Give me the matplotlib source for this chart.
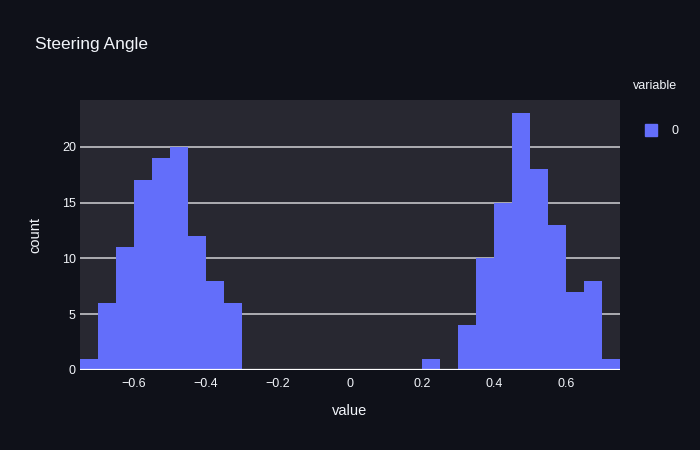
"""
Steering Angle histogram (plotly dark look)
"""
import numpy as np
import matplotlib.pyplot as plt

plt.rcParams['font.family'] = ['Liberation Sans', 'DejaVu Sans']

# bin left edges and counts, bin width 0.05
bin_left = np.round(np.arange(-0.75, 0.75, 0.05), 2)
counts = [1, 6, 11, 17, 19, 20, 12, 8, 6,
          0, 0, 0, 0, 0, 0, 0, 0, 0, 0,
          1, 0, 4, 10, 15, 23, 18, 13, 7, 8, 1]
bin_width = 0.05

x_ticks = [-0.6, -0.4, -0.2, 0, 0.2, 0.4, 0.6]
x_tick_labels = ["\u22120.6", "\u22120.4", "\u22120.2", "0", "0.2", "0.4", "0.6"]
y_ticks = [0, 5, 10, 15, 20]

paper = '#0f1119'
plot_bg = '#282831'
txt = '#f2f5fa'
bar_color = '#636efa'

fig = plt.figure(figsize=(7, 4.5), dpi=100, facecolor=paper)
ax = fig.add_axes([80 / 700, 1 - 370 / 450, 540 / 700, 270 / 450])
ax.set_facecolor(plot_bg)

ax.bar(bin_left, counts, width=bin_width, align='edge', color=bar_color,
       linewidth=0, zorder=2)

for y in y_ticks[1:]:
    ax.axhline(y, color='#b8b8bc', lw=1.3, zorder=1)
ax.axhline(0, color='white', lw=1.6, zorder=3)

ax.set_xlim(-0.75, 0.75)
ax.set_ylim(0, 24.2)
ax.set_xticks(x_ticks)
ax.set_xticklabels(x_tick_labels)
ax.set_yticks(y_ticks)
ax.tick_params(colors=txt, labelsize=9, length=0)
ax.tick_params(axis='x', pad=6)
ax.tick_params(axis='y', pad=3)
for s in ax.spines.values():
    s.set_visible(False)

ax.set_xlabel("value", color=txt, fontsize=10.5, labelpad=10)
ax.set_ylabel("count", color=txt, fontsize=10.5, labelpad=14)

fig.text(35 / 700, 1 - 45 / 450, "Steering Angle", color=txt, fontsize=12.5,
         ha='left', va='center')

# legend
fig.text(633 / 700, 1 - 86 / 450, "variable", color=txt, fontsize=9,
         ha='left', va='center')
fig.patches.append(plt.Rectangle((645 / 700, 1 - 136 / 450), 12 / 700, 12 / 450,
                                 transform=fig.transFigure, color=bar_color,
                                 figure=fig))
fig.text(671 / 700, 1 - 131 / 450, "0", color=txt, fontsize=9,
         ha='left', va='center')

fig.savefig("out.png", facecolor=paper)
